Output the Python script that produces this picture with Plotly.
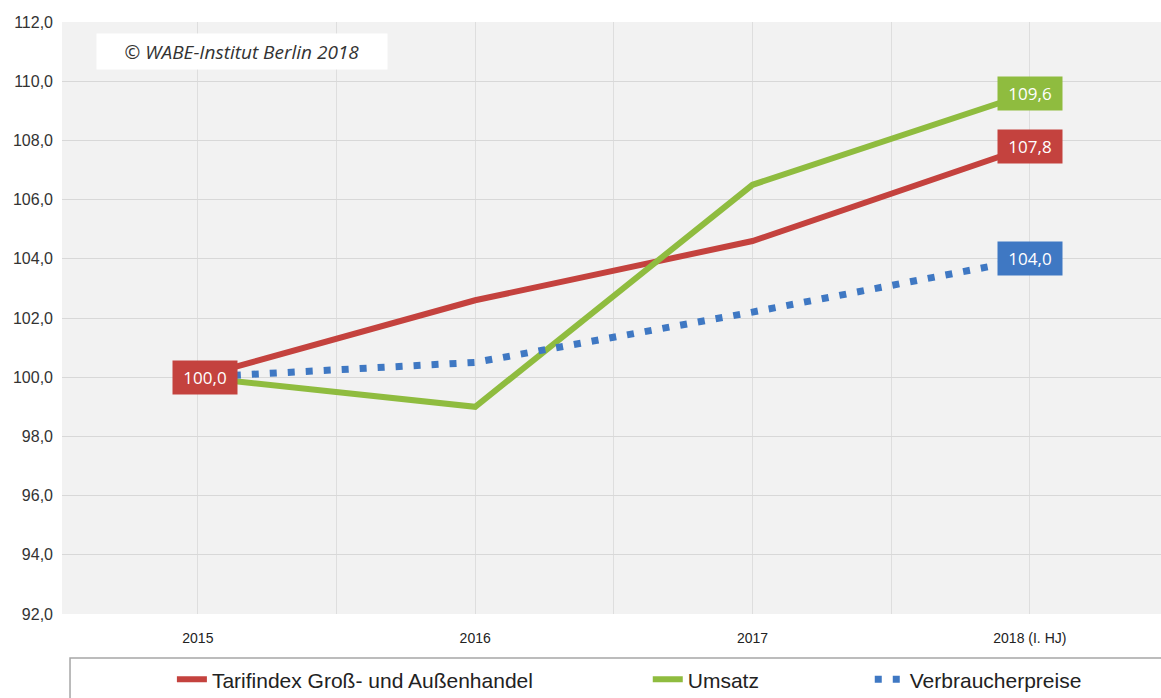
import plotly.graph_objects as go

categories = ["2015", "2016", "2017", "2018 (I. HJ)"]
tarifindex = [100.0, 102.6, 104.6, 107.8]
umsatz = [100.0, 99.0, 106.5, 109.6]
verbraucherpreise = [100.0, 100.5, 102.2, 104.0]
y_ticks = [92, 94, 96, 98, 100, 102, 104, 106, 108, 110, 112]

RED = "#c4423e"
GREEN = "#8fbc3f"
BLUE = "#3f78c3"
FONT = "Liberation Sans, Arial, sans-serif"

x = list(range(len(categories)))

def fmt(v):
    return f"{v:.1f}".replace(".", ",")

fig = go.Figure()
fig.add_trace(go.Scatter(x=x, y=tarifindex, mode="lines", name="Tarifindex Groß- und Außenhandel",
                         line=dict(color=RED, width=6), legend="legend"))
fig.add_trace(go.Scatter(x=x, y=umsatz, mode="lines", name="Umsatz",
                         line=dict(color=GREEN, width=6), legend="legend2"))
fig.add_trace(go.Scatter(x=x, y=verbraucherpreise, mode="lines", name="Verbraucherpreise",
                         line=dict(color=BLUE, width=7, dash="7px,11px"), legend="legend3"))

# data labels
labels = [
    (0, tarifindex[0], RED, 0.025),
    (3, umsatz[3], GREEN, 0.0),
    (3, tarifindex[3], RED, 0.0),
    (3, verbraucherpreise[3], BLUE, 0.0),
]
for xi, yi, c, dx in labels:
    fig.add_annotation(x=xi + dx, y=yi, text=fmt(yi), showarrow=False, bgcolor=c,
                       font=dict(family="Open Sans, sans-serif", size=17, color="white"),
                       borderpad=0, width=64, height=33, align="center",
                       xanchor="center", yanchor="middle")

fig.add_annotation(xref="paper", yref="paper", x=0.1638, y=0.9497,
                   text="<i>© WABE-Institut Berlin 2018</i>", showarrow=False,
                   bgcolor="white", borderpad=0, width=290, height=35, align="center",
                   font=dict(family="Open Sans, sans-serif", size=19, color="#333333"),
                   xanchor="center", yanchor="middle")

# legend frame
fig.add_shape(type="rect", xref="paper", yref="paper", x0=0.0073, x1=1.02, y0=-0.2, y1=-0.0743,
              line=dict(color="#a6a6a6", width=1.5), fillcolor="white", layer="below")

leg_common = dict(orientation="h", yanchor="middle", y=-0.111, xanchor="left",
                  bgcolor="rgba(0,0,0,0)", font=dict(family=FONT, size=21, color="#222222"))

fig.update_layout(
    width=1161, height=698,
    margin=dict(l=62, r=0, t=22, b=84, autoexpand=False),
    paper_bgcolor="white",
    plot_bgcolor="#f2f2f2",
    separators=",.",
    showlegend=True,
    legend=dict(x=0.100, **leg_common),
    legend2=dict(x=0.533, **leg_common),
    legend3=dict(x=0.735, **leg_common),
    xaxis=dict(range=[-0.49, 3.473], tickvals=x, ticktext=categories, showgrid=True,
               gridcolor="#dedede", gridwidth=1, zeroline=False, showline=False,
               ticks="", ticklabelstandoff=14, automargin=False,
               tickfont=dict(family=FONT, size=14, color="#222222"),
               minor=dict(tickvals=[-0.5, 0.5, 1.5, 2.5, 3.5], showgrid=True, gridcolor="#dedede")),
    yaxis=dict(range=[92, 112], tickvals=y_ticks, tickformat=".1f", showgrid=True,
               gridcolor="#d8d8d8", gridwidth=1, zeroline=False, showline=False, ticks="",
               ticklabelstandoff=8, automargin=False,
               tickfont=dict(family=FONT, size=16, color="#333333")),
)

fig.write_html("out.html")
